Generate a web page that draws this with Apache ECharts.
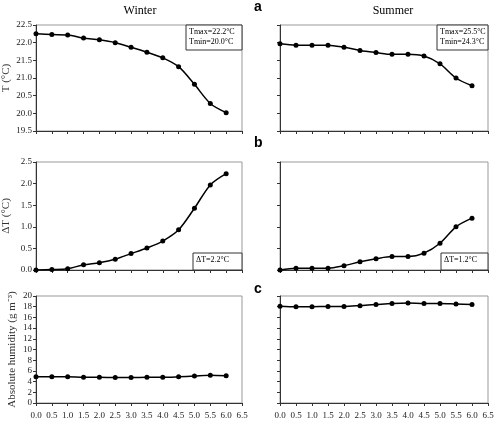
<!DOCTYPE html><html><head><meta charset="utf-8"><script src="https://cdn.jsdelivr.net/npm/echarts@6/dist/echarts.min.js"></script>
<style>body{margin:0;background:#fff}#c{width:497px;height:422px}</style></head><body><div id="c"></div><script>
var xs=[0,0.5,1,1.5,2,2.5,3,3.5,4,4.5,5,5.5,6];
var winterT=[22.25,22.23,22.22,22.13,22.08,22.0,21.87,21.73,21.57,21.32,20.82,20.28,20.02];
var summerT=[21.97,21.93,21.93,21.93,21.87,21.78,21.72,21.67,21.67,21.62,21.4,21.0,20.78];
var winterDT=[0,0.01,0.03,0.12,0.17,0.25,0.38,0.51,0.67,0.93,1.43,1.97,2.23];
var summerDT=[0,0.04,0.04,0.04,0.1,0.19,0.26,0.31,0.31,0.39,0.62,1.0,1.2];
var winterAH=[4.9,4.9,4.9,4.8,4.8,4.75,4.75,4.8,4.8,4.9,5.05,5.2,5.1];
var summerAH=[18.1,18.0,18.0,18.05,18.05,18.2,18.4,18.6,18.7,18.6,18.6,18.5,18.4];
var F='Liberation Serif';
var rows=[{top:25,h:106,min:19.5,max:22.5,int:0.5,name:'T (°C)',d:[winterT,summerT]},
{top:162,h:108,min:0,max:2.5,int:0.5,name:'ΔT (°C)',d:[winterDT,summerDT]},
{top:296,h:107,min:0,max:20,int:2,name:'Absolute humidity (g m⁻³)',d:[winterAH,summerAH]}];
var cols=[{left:36,w:206},{left:280,w:208}];
var grid=[],xA=[],yA=[],series=[];
rows.forEach(function(r,ri){cols.forEach(function(c,ci){
 var i=grid.length;
 grid.push({left:c.left,width:c.w,top:r.top,height:r.h,show:true,borderColor:'#999',borderWidth:1});
 xA.push({type:'value',gridIndex:i,min:0,max:6.5,interval:0.5,axisLine:{lineStyle:{color:'#333'}},axisTick:{length:3,lineStyle:{color:'#333'}},splitLine:{show:false},
  axisLabel:{show:ri==2,fontFamily:F,fontSize:9,color:'#222',formatter:function(v){return v.toFixed(1);}}});
 yA.push({type:'value',gridIndex:i,min:r.min,max:r.max,interval:r.int,axisLine:{show:true,lineStyle:{color:'#333'}},axisTick:{show:true,length:3,lineStyle:{color:'#333'}},splitLine:{show:false},
  axisLabel:{show:ci==0,fontFamily:F,fontSize:9,color:'#222',margin:4,formatter:function(v){return r.int<1?v.toFixed(1):String(v);}},
  name:ci==0?r.name:'',nameLocation:'middle',nameGap:ri==2?18:24,nameTextStyle:{fontFamily:F,fontSize:11,color:'#333'}});
 series.push({type:'line',xAxisIndex:i,yAxisIndex:i,smooth:0.3,symbol:'circle',symbolSize:5,lineStyle:{color:'#000',width:1.5},itemStyle:{color:'#000'},
  data:xs.map(function(x,k){return [x,r.d[ci][k]];})});
});});
function box(x,y,w,h,lines){return {type:'group',children:[{type:'rect',shape:{x:x,y:y,width:w,height:h},style:{fill:'#fff',stroke:'#333',lineWidth:1}}].concat(lines.map(function(t,k){return {type:'text',x:x+3,y:y+3+k*10,style:{text:t,font:'8px "Liberation Serif"',fill:'#000'}};}))};}
var g=[
{type:'text',x:140,y:5,style:{text:'Winter',font:'12px "Liberation Serif"',fill:'#000',textAlign:'center'}},
{type:'text',x:393,y:5,style:{text:'Summer',font:'12px "Liberation Serif"',fill:'#000',textAlign:'center'}},
{type:'text',x:254,y:0,style:{text:'a',font:'bold 14px Arial',fill:'#000'}},
{type:'text',x:254,y:136,style:{text:'b',font:'bold 14px Arial',fill:'#000'}},
{type:'text',x:254,y:282,style:{text:'c',font:'bold 14px Arial',fill:'#000'}},
box(186,25,56,25,['Tmax=22.2°C','Tmin=20.0°C']),
box(437,25,51,25,['Tmax=25.5°C','Tmin=24.3°C']),
box(193,253,49,17,['ΔT=2.2°C']),
box(441,253,47,17,['ΔT=1.2°C'])];
var ch=echarts.init(document.getElementById('c'));
ch.setOption({animation:false,grid:grid,xAxis:xA,yAxis:yA,series:series,graphic:g});
</script></body></html>
